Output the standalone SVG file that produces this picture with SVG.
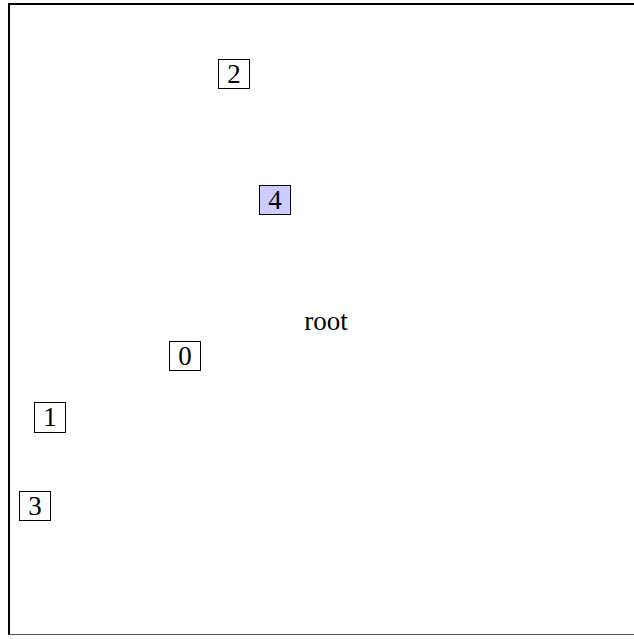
<svg xmlns="http://www.w3.org/2000/svg" width="634" height="639" viewBox="0 0 634 639">
<style>
.box{fill:#ffffff;stroke:#000000;stroke-width:1}
.hl{fill:#ccccff}
text{font-family:"Liberation Serif","DejaVu Serif",serif;font-size:27px;fill:#000000;text-anchor:middle}
</style>
<rect x="0" y="0" width="634" height="639" fill="#ffffff"/>
<g id="frame">
<line x1="9" y1="4" x2="634" y2="4" stroke="#000" stroke-width="2"/>
<line x1="9" y1="3" x2="9" y2="635" stroke="#000" stroke-width="2"/>
<line x1="9" y1="634.5" x2="634" y2="634.5" stroke="#555" stroke-width="1"/>
</g>
<g id="connectors"></g>
<g id="node2"><rect class="box" x="218.5" y="59.5" width="31" height="29"/><text x="234" y="83">2</text></g>
<g id="node4"><rect class="box hl" x="259.5" y="185.5" width="31" height="29"/><text x="275" y="209">4</text></g>
<g id="root"><text x="326" y="330">root</text></g>
<g id="node0"><rect class="box" x="169.5" y="341.5" width="31" height="29"/><text x="185" y="365">0</text></g>
<g id="node1"><rect class="box" x="34.5" y="402.5" width="31" height="30"/><text x="50" y="426">1</text></g>
<g id="node3"><rect class="box" x="19.5" y="491.5" width="31" height="29"/><text x="35" y="515">3</text></g>
</svg>
